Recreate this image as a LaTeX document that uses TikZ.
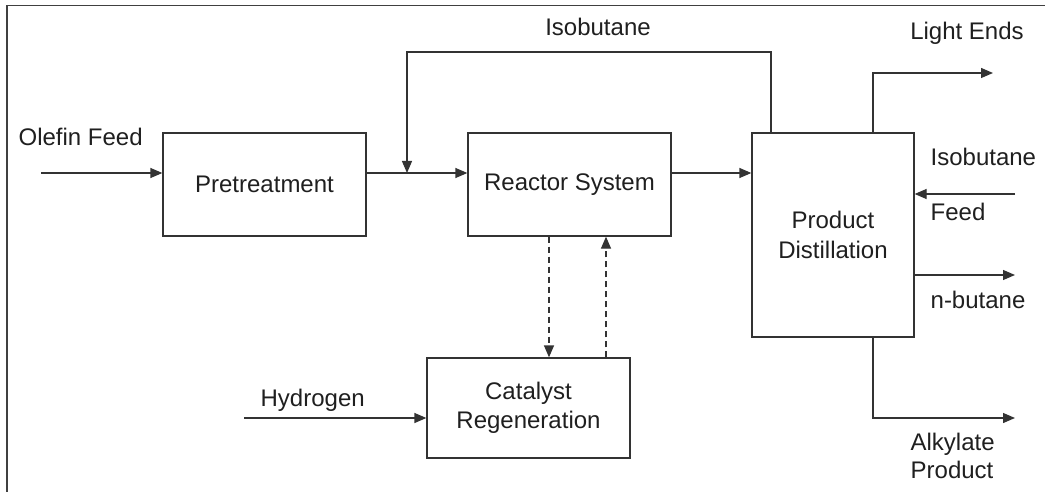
\documentclass[tikz,border=0pt]{standalone}
\usepackage{fontspec}
\setmainfont{Liberation Sans}
\usetikzlibrary{arrows.meta}
\begin{document}
\begin{tikzpicture}[x=1pt,y=-1pt,
  line width=1.3pt,
  every node/.style={text=black!88},
  unit/.style={draw=black!80, line width=1.3pt, minimum width=203pt, minimum height=103pt, inner sep=0pt, align=center, font=\fontsize{24}{29.5}\selectfont},
  lbl/.style={inner sep=0pt, font=\fontsize{24}{28}\selectfont},
  flow/.style={draw=black!80, -{Triangle[length=12pt,width=10pt]}},
  dflow/.style={draw=black!80, dash pattern=on 6pt off 4pt, -{Triangle[length=12pt,width=10pt]}},
  line/.style={draw=black!80}]
\useasboundingbox (0,0) rectangle (1045,492);
\draw[black!75, line width=1.5pt] (7,492) -- (7,5.5) -- (1045,5.5);

\node[unit] (pre) at (264.5,184.5) {Pretreatment};
\node[unit] (reac) at (569.5,184.5) {Reactor System};
\node[unit, minimum width=162pt, minimum height=204pt] (dist) at (833,235) {Product\\Distillation};
\node[unit, minimum height=100pt] (cat) at (528.5,408) {Catalyst\\Regeneration};

\coordinate (of) at (41,173);
\coordinate (rtop) at (771,52);
\coordinate (ltop) at (407,52);
\coordinate (join) at (407,173);
\coordinate (le1) at (873,73);
\coordinate (le2) at (993,73);
\coordinate (if) at (1015,194);
\coordinate (nb) at (1015,275);
\coordinate (al1) at (873,418);
\coordinate (al2) at (1015,418);
\coordinate (hy) at (244,418);
\coordinate (dd) at (549,300);
\coordinate (du) at (606,300);

\draw[flow] (of) -- (of -| pre.west);
\draw[flow] (pre.east |- of) -- (reac.west |- of);
\draw[flow] (reac.east |- of) -- (dist.west |- of);
\draw[flow] (rtop |- dist.north) -- (rtop) -- (ltop) -- (join);
\draw[flow] (le1 |- dist.north) -- (le1) -- (le2);
\draw[flow] (if) -- (dist.east |- if);
\draw[flow] (dist.east |- nb) -- (nb);
\draw[flow] (al1 |- dist.south) -- (al1) -- (al2);
\draw[flow] (hy) -- (cat.west |- hy);
\draw[dflow] (dd |- reac.south) -- (dd |- cat.north);
\draw[dflow] (du |- cat.north) -- (du |- reac.south);

\node[lbl, anchor=west] (tof) at (18,137) {Olefin Feed};
\node[lbl] (tiso) at (598,27) {Isobutane};
\node[lbl] (tle) at (967,33) {Light Ends};
\node[lbl, anchor=west] (tif1) at (930,157) {Isobutane};
\node[lbl, anchor=west] (tif2) at (930,212) {Feed};
\node[lbl, anchor=west] (tnb) at (930,300) {n-butane};
\node[lbl, anchor=west, align=left] (tal) at (910,456) {Alkylate\\Product};
\node[lbl, anchor=west] (thy) at (260,400) {Hydrogen};
\end{tikzpicture}
\end{document}
